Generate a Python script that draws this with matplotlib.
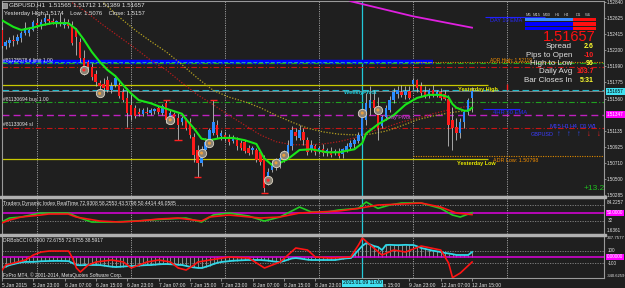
import matplotlib.pyplot as plt
import matplotlib.transforms as mtransforms
from matplotlib.patches import Rectangle
import numpy as np

plt.rcParams['font.family'] = ['Liberation Sans', 'DejaVu Sans']

W, H = 625, 288
BG = '#1f1f1f'
TXT = '#e4e4e4'

# ---------------- data (GBPUSD H1, 5 Jan 15:00 -> 12 Jan 15:00) -------------
bar_open = [
    1.5247, 1.5226, 1.5230, 1.5234, 1.5232, 1.5236, 1.5243, 1.5243, 1.5247, 1.5256,
    1.5253, 1.5257, 1.5261, 1.5259, 1.5255, 1.5257, 1.5253, 1.5257, 1.5253, 1.5247,
    1.5231, 1.5210, 1.5205, 1.5198, 1.5189, 1.5177, 1.5175, 1.5181, 1.5167, 1.5174,
    1.5174, 1.5165, 1.5157, 1.5148, 1.5144, 1.5138, 1.5136, 1.5138, 1.5137, 1.5140,
    1.5144, 1.5137, 1.5150, 1.5128, 1.5136, 1.5130, 1.5125, 1.5128, 1.5125, 1.5105,
    1.5088, 1.5071, 1.5088, 1.5101, 1.5110, 1.5121, 1.5107, 1.5108, 1.5105, 1.5100,
    1.5101, 1.5097, 1.5099, 1.5091, 1.5088, 1.5088, 1.5085, 1.5077, 1.5048, 1.5062,
    1.5069, 1.5067, 1.5077, 1.5081, 1.5093, 1.5112, 1.5104, 1.5112, 1.5101, 1.5088,
    1.5093, 1.5087, 1.5089, 1.5085, 1.5087, 1.5084, 1.5085, 1.5083, 1.5088, 1.5092,
    1.5096, 1.5100, 1.5107, 1.5128, 1.5144, 1.5154, 1.5144, 1.5120, 1.5132, 1.5141,
    1.5154, 1.5162, 1.5165, 1.5161, 1.5166, 1.5175, 1.5181, 1.5173, 1.5165, 1.5161,
    1.5167, 1.5161, 1.5165, 1.5162, 1.5156, 1.5128, 1.5118, 1.5110, 1.5125, 1.5138,
    1.51565]
bar_high = [
    1.5251, 1.5234, 1.5238, 1.5240, 1.5242, 1.5246, 1.5257, 1.5251, 1.5260, 1.5263,
    1.5261, 1.5269, 1.5268, 1.5263, 1.5260, 1.5269, 1.5263, 1.5261, 1.5259, 1.5250,
    1.5236, 1.5220, 1.5207, 1.5203, 1.5194, 1.5181, 1.5183, 1.5186, 1.5178, 1.5187,
    1.5178, 1.5170, 1.5170, 1.5161, 1.5148, 1.5144, 1.5144, 1.5145, 1.5144, 1.5144,
    1.5146, 1.5149, 1.5154, 1.5141, 1.5138, 1.5137, 1.5133, 1.5130, 1.5130, 1.5110,
    1.5095, 1.5093, 1.5104, 1.5117, 1.5154, 1.5128, 1.5114, 1.5112, 1.5109, 1.5108,
    1.5105, 1.5101, 1.5101, 1.5095, 1.5093, 1.5091, 1.5088, 1.5081, 1.5064, 1.5075,
    1.5077, 1.5080, 1.5088, 1.5101, 1.5120, 1.5117, 1.5121, 1.5117, 1.5105, 1.5101,
    1.5096, 1.5093, 1.5096, 1.5091, 1.5092, 1.5089, 1.5091, 1.5091, 1.5097, 1.5101,
    1.5104, 1.5112, 1.5134, 1.5163, 1.5173, 1.5167, 1.5158, 1.5134, 1.5148, 1.5160,
    1.5170, 1.5173, 1.5174, 1.5173, 1.5173, 1.5184, 1.5182, 1.5178, 1.5173, 1.5170,
    1.5174, 1.5167, 1.5170, 1.5167, 1.5161, 1.5145, 1.5130, 1.5130, 1.5141, 1.5157,
    1.51712]
bar_low = [
    1.5223, 1.5222, 1.5224, 1.5226, 1.5228, 1.5231, 1.5240, 1.5239, 1.5246, 1.5250,
    1.5248, 1.5253, 1.5255, 1.5255, 1.5251, 1.5252, 1.5250, 1.5250, 1.5227, 1.5214,
    1.5205, 1.5187, 1.5194, 1.5181, 1.5173, 1.5161, 1.5165, 1.5165, 1.5163, 1.5171,
    1.5157, 1.5152, 1.5118, 1.5128, 1.5130, 1.5133, 1.5133, 1.5136, 1.5134, 1.5136,
    1.5136, 1.5134, 1.5124, 1.5125, 1.5125, 1.5101, 1.5121, 1.5114, 1.5104, 1.5072,
    1.5052, 1.5067, 1.5084, 1.5099, 1.5108, 1.5104, 1.5101, 1.5100, 1.5095, 1.5097,
    1.5088, 1.5088, 1.5084, 1.5081, 1.5083, 1.5072, 1.5068, 1.5032, 1.5042, 1.5059,
    1.5062, 1.5064, 1.5072, 1.5077, 1.5088, 1.5101, 1.5101, 1.5095, 1.5081, 1.5085,
    1.5081, 1.5084, 1.5080, 1.5080, 1.5079, 1.5081, 1.5077, 1.5077, 1.5085, 1.5089,
    1.5091, 1.5097, 1.5104, 1.5121, 1.5134, 1.5138, 1.5101, 1.5117, 1.5128, 1.5138,
    1.5150, 1.5157, 1.5158, 1.5156, 1.5156, 1.5167, 1.5165, 1.5160, 1.5157, 1.5157,
    1.5158, 1.5158, 1.5154, 1.5154, 1.5093, 1.5088, 1.5101, 1.5104, 1.5117, 1.5134,
    1.51389]
bar_close = [
    1.5226, 1.5231, 1.5234, 1.5232, 1.5238, 1.5243, 1.5250, 1.5247, 1.5257, 1.5253,
    1.5257, 1.5263, 1.5259, 1.5257, 1.5259, 1.5255, 1.5257, 1.5252, 1.5230, 1.5238,
    1.5210, 1.5194, 1.5198, 1.5185, 1.5178, 1.5173, 1.5170, 1.5167, 1.5173, 1.5183,
    1.5160, 1.5154, 1.5137, 1.5134, 1.5133, 1.5136, 1.5141, 1.5137, 1.5141, 1.5142,
    1.5138, 1.5146, 1.5128, 1.5137, 1.5128, 1.5121, 1.5130, 1.5117, 1.5108, 1.5081,
    1.5071, 1.5088, 1.5099, 1.5114, 1.5125, 1.5108, 1.5110, 1.5105, 1.5099, 1.5104,
    1.5093, 1.5091, 1.5087, 1.5084, 1.5091, 1.5075, 1.5072, 1.5038, 1.5059, 1.5071,
    1.5065, 1.5077, 1.5084, 1.5095, 1.5114, 1.5107, 1.5114, 1.5101, 1.5085, 1.5095,
    1.5085, 1.5091, 1.5084, 1.5088, 1.5081, 1.5087, 1.5080, 1.5089, 1.5093, 1.5097,
    1.5101, 1.5108, 1.5130, 1.5150, 1.5154, 1.5144, 1.5117, 1.5132, 1.5144, 1.5154,
    1.5165, 1.5167, 1.5161, 1.5166, 1.5157, 1.5181, 1.5170, 1.5163, 1.5160, 1.5167,
    1.5161, 1.5165, 1.5157, 1.5156, 1.5121, 1.5117, 1.5110, 1.5125, 1.5138, 1.5154,
    1.51657]

# green fast MA (bar index, price)
ema_bar = [0, 3, 5, 8, 10, 13, 17, 19, 21, 23, 25, 27, 29, 31, 33, 35, 38, 40, 43, 46,
           47, 49, 51, 53, 56, 59, 62, 65, 67, 69, 71, 73, 76, 79, 83, 86, 90, 92, 93, 96,
           100, 103, 106, 109, 112, 114, 115, 116, 118, 119, 120]
ema_val = [1.5260, 1.5251, 1.5247, 1.5250, 1.5253, 1.5256, 1.5256, 1.5248, 1.5234, 1.5218,
           1.5205, 1.5194, 1.5186, 1.5174, 1.5163, 1.5154, 1.5150, 1.5146, 1.5141, 1.5136,
           1.5129, 1.5117, 1.5103, 1.5101, 1.5104, 1.5104, 1.5101, 1.5096, 1.5077, 1.5068,
           1.5071, 1.5076, 1.5088, 1.5089, 1.5085, 1.5085, 1.5089, 1.5097, 1.5110, 1.5122,
           1.5134, 1.5148, 1.5157, 1.5161, 1.5161, 1.5158, 1.5149, 1.5144, 1.5140, 1.5140,
           1.5144]
# yellow dotted slow MA
slow_bar = [26, 30, 34, 38, 42, 46, 50, 54, 58, 62, 66, 70, 74, 78, 82, 86, 90, 94, 98,
            102, 106, 110, 114, 118, 120]
slow_val = [1.5283, 1.5264, 1.5247, 1.5232, 1.5218, 1.5201, 1.5183, 1.5167, 1.5158, 1.5152,
            1.5144, 1.5134, 1.5125, 1.5117, 1.5112, 1.5109, 1.5108, 1.5109, 1.5113, 1.5120,
            1.5128, 1.5133, 1.5137, 1.5140, 1.5141]
# red dotted MA
mid_bar = [18, 22, 26, 30, 34, 38, 42, 46, 50, 54, 58, 62, 66, 70, 74, 78, 82, 86, 90, 94,
           98, 102, 106, 110, 114, 118, 120]
mid_val = [1.5283, 1.5269, 1.5253, 1.5238, 1.5223, 1.5207, 1.5194, 1.5177, 1.5161, 1.5148,
           1.5134, 1.5121, 1.5108, 1.5099, 1.5095, 1.5095, 1.5096, 1.5099, 1.5104, 1.5112,
           1.5118, 1.5125, 1.5130, 1.5136, 1.5141, 1.5145, 1.5146]
# magenta long MA
long_bar = [89, 93, 97, 101, 105, 109, 113, 117, 120]
long_val = [1.5285, 1.5280, 1.5275, 1.5270, 1.5265, 1.5261, 1.5257, 1.5253, 1.5250]

# horizontal levels
tl_limit = 1.5204
adr_high = 1.5205
adr_low = 1.50798
green_order = 1.5203
red_order = 1.5198
yest_high = 1.5174
yest_low = 1.5076
weekly_pivot = 1.5168
bid = 1.51657
buy_level = 1.5152
day_pivot = 1.51347
sl_level = 1.5117
day_ema = 1.5264
h4_ema = 1.5142

# trade circles and fractal marks
circle_bars = [21, 25, 43, 51, 53, 68, 70, 72, 92, 96]
circle_price = [1.5194, 1.5163, 1.5128, 1.5084, 1.5097, 1.5048, 1.5071, 1.5081, 1.5137, 1.5141]
circle_red = [21, 68]
frac_up_bars = [42, 54]
frac_dn_bars = [45, 50, 67]

day_start_bars = [9, 33, 57, 81, 105, 129]
cursor_bar = 92

# Traders Dynamic Index
tdi_red_bar = [0, 2, 5, 10, 12, 17, 19, 22, 25, 30, 35, 40, 45, 51, 53, 58, 66, 71, 76, 81,
               86, 91, 96, 102, 107, 112, 116, 120]
tdi_red = [26.8, 33.7, 40.6, 45.2, 47.5, 47.5, 40.6, 36.0, 31.4, 29.1, 31.4, 36.0, 38.3, 31.4,
           40.6, 45.2, 38.3, 40.6, 49.8, 52.1, 54.4, 60.4, 68.1, 70.4, 72.7, 63.5, 49.8, 46.06]
tdi_green_bar = [0, 2, 5, 10, 14, 17, 20, 23, 28, 34, 38, 42, 47, 51, 54, 58, 63, 67, 71, 76,
                 79, 83, 86, 91, 93, 96, 99, 102, 107, 112, 115, 117, 120]
tdi_green = [29.1, 38.3, 40.6, 49.8, 49.8, 49.8, 38.3, 29.1, 29.1, 31.4, 33.7, 36.0, 38.3, 29.1,
             45.2, 49.8, 42.9, 31.4, 40.6, 63.5, 52.1, 52.1, 56.7, 60.4, 75.0, 60.4, 68.1, 72.7,
             72.7, 60.4, 45.2, 40.6, 50.44]

# DRBobCCI
cci_red_bar = [0, 1, 4, 6, 8, 10, 12, 17, 18, 19, 20, 22, 24, 28, 31, 33, 35, 37, 40, 43,
               45, 47, 49, 50, 53, 58, 63, 67, 71, 75, 78, 80, 84, 89, 91, 92, 94, 97, 100, 103,
               107, 112, 114, 115, 117, 120]
cci_red = [-212, -131, -82, -50, 31, 79, 95, 95, -18, -179, -244, -131, -82, -50, -82, -179,
           -131, -82, -50, -82, -179, -212, -131, -82, -50, -2, -18, -179, -82, 144, 111, -2,
           -18, -2, 192, 305, 192, 31, 111, 79, 176, 111, -99, -335, -260, -82]
cci_cyan = [
    -180, -155, -130, -115, -100, -85, -80, -80, -80, -75,
    -70, -68, -66, -65, -64, -65, -66, -68, -100, -130,
    -135, -132, -130, -130, -131, -132, -140, -150, -158, -163,
    -160, -155, -150, -148, -147, -140, -135, -132, -131, -125,
    -120, -116, -115, -118, -122, -128, -131, -145, -160, -170,
    -178, -179, -160, -140, -115, -95, -82, -75, -68, -62,
    -58, -55, -52, -50, -50, -50, -50, -55, -60, -70,
    -78, -82, -65, -45, -25, -18, -25, -35, -45, -50,
    -50, -50, -50, -50, -50, -50, -40, -30, -22, -18,
    40, 111, 180, 224, 200, 175, 160, 111, 192, 195,
    192, 190, 192, 195, 192, 192, 170, 144, 130, 115,
    100, 90, 79, 65, 55, 45, 31, 31, 31, 31,
    79]

main_ticks = [1.52840, 1.52625, 1.52415, 1.52200, 1.51990, 1.51775, 1.51560,
              1.51135, 1.50925, 1.50710, 1.50500, 1.50285]
# the 9 Jan 07:00 label is hidden under the cursor time box in the chart
tick_bars = [0, 8, 16, 24, 32, 40, 48, 56, 64, 72, 80, 96, 104, 112, 120]
tick_labels = ['5 Jan 2015', '5 Jan 23:00', '6 Jan 07:00', '6 Jan 15:00', '6 Jan 23:00',
               '7 Jan 07:00', '7 Jan 15:00', '7 Jan 23:00', '8 Jan 07:00', '8 Jan 15:00',
               '8 Jan 23:00', 'Jan 15:00', '9 Jan 23:00', '12 Jan 07:00', '12 Jan 15:00']

# ---------------- figure ----------------
fig = plt.figure(figsize=(W / 100, H / 100), dpi=100, facecolor=BG)


def panel(top, bottom):
    a = fig.add_axes([2 / W, 1 - bottom / H, 602 / W, (bottom - top) / H], facecolor=BG)
    a.set_xlim(0.1, 153.67)
    for s in a.spines.values():
        s.set_color('#9a9a9a')
        s.set_linewidth(0.8)
    a.set_xticks([])
    a.set_yticks([])
    return a


def label(x, y, s, size=3.6, color=TXT, **kw):
    kw.setdefault('va', 'center')
    fig.text(x / W, 1 - y / H, s, fontsize=size, color=color, **kw)


ax = panel(1, 196)
ax1 = panel(198, 234)
ax2 = panel(236, 278)
ax.set_ylim(1.50271, 1.52853)
ax1.set_ylim(1.6361, 84.2257)
ax2.set_ylim(-340.6259, 337.7577)

for yy in (196, 234):
    fig.add_artist(Rectangle((0, 1 - (yy + 2) / H), 606 / W, 2 / H,
                             transform=fig.transFigure, color='#b0b0b0', zorder=5))

for a in (ax, ax1, ax2):
    for b in day_start_bars:
        a.axvline(b, color='#9a9a9a', lw=0.7, ls=(0, (1.2, 1.2)), zorder=1)
    a.axvline(cursor_bar, color='#22c8d8', lw=0.9, zorder=2)

# ---- main price panel ----
n = len(bar_close)
xb = np.arange(n)
o = np.array(bar_open)
c = np.array(bar_close)
hi = np.array(bar_high)
lo = np.array(bar_low)

ax.hlines(tl_limit, 0.1, 110, color='#0000ff', lw=3.2, zorder=2)
ax.hlines(tl_limit, 0.1, 110, color='#20a8b8', lw=0.7, ls=(0, (4, 2)), zorder=2)
ax.hlines(adr_high, 105, 153.67, color='#e08a00', lw=0.8, ls=(0, (1, 1.2)), zorder=2)
ax.axhline(green_order, color='#20a020', lw=0.8, ls=(0, (5, 2, 1, 2)), zorder=2)
ax.axhline(red_order, color='#c81414', lw=0.8, ls=(0, (5, 2, 1, 2)), zorder=2)
ax.hlines(yest_high, 0.1, 124, color='#c8c800', lw=0.9, zorder=2)
ax.axhline(weekly_pivot, color='#20b8c8', lw=0.8, ls=(0, (6, 3)), zorder=2)
ax.axhline(bid, color='#8c8c8c', lw=0.6, zorder=2)
ax.axhline(buy_level, color='#20a020', lw=0.8, ls=(0, (5, 2, 1, 2)), zorder=2)
ax.axhline(day_pivot, color='#c020c0', lw=1.0, ls=(0, (5, 3)), zorder=2)
ax.axhline(sl_level, color='#c81414', lw=0.8, ls=(0, (5, 2, 1, 2)), zorder=2)
ax.hlines(yest_low, 0.1, 124, color='#c8c800', lw=0.9, zorder=2)
ax.hlines(adr_low, 105, 153.67, color='#e08a00', lw=0.8, ls=(0, (1, 1.2)), zorder=2)
ax.hlines(day_ema, 123.3, 138.5, color='#2020ff', lw=0.8, zorder=2)
ax.hlines(h4_ema, 122.8, 132.2, color='#2020ff', lw=0.8, zorder=2)

ax.plot(slow_bar, slow_val, color='#b4a020', lw=0.9, ls=(0, (1, 1.3)), zorder=3)
ax.plot(mid_bar, mid_val, color='#b41c1c', lw=0.9, ls=(0, (1, 1.3)), zorder=3)
ax.plot(long_bar, long_val, color='#e020e0', lw=1.3, zorder=3)

ax.vlines(xb, lo, hi, color='#bdbdbd', lw=0.6, zorder=4)
body = np.maximum(np.abs(c - o), 0.00004)
cols = np.where(c > o, '#2b8cff', np.where(c < o, '#ff1a1a', '#e0e0e0'))
ax.bar(xb, body, bottom=np.minimum(o, c), width=0.62, color=cols, linewidth=0, zorder=5)

ax.plot(ema_bar, ema_val, color='#19e619', lw=1.5, zorder=6)

fu = np.array(frac_up_bars)
fd = np.array(frac_dn_bars)
ax.hlines(hi[fu] + 0.00003, fu - 0.9, fu + 0.9, color='#ff2020', lw=1.0, zorder=6)
ax.hlines(lo[fd] - 0.00003, fd - 0.9, fd + 0.9, color='#ff2020', lw=1.0, zorder=6)

ax.scatter(circle_bars, circle_price, s=36, facecolor='#8a8274', edgecolor='#ddd6c6',
           linewidth=0.6, zorder=7)
inner = ['#ff2a2a' if b in circle_red else '#e8a040' for b in circle_bars]
ax.scatter(circle_bars, circle_price, s=5, c=inner, linewidth=0, zorder=8)

ax.vlines(129, 1.5168, 1.5176, color='#ff2020', lw=1.0, zorder=3)

ax.yaxis.tick_right()
ax.set_yticks(main_ticks)
ax.set_yticklabels([f'{v:.5f}' for v in main_ticks])
ax.tick_params(axis='y', length=1.5, width=0.6, color='#9a9a9a', pad=0.6,
               labelsize=3.3, labelcolor=TXT)
yt = ax.get_yaxis_transform()
ax.text(1.005, bid, f'{bid:.5f}', transform=yt, fontsize=3.3, color='#000000', va='center',
        bbox=dict(boxstyle='square,pad=0.18', fc='#40e0f0', ec='none'), clip_on=False)
ax.text(1.005, day_pivot, f'{day_pivot:.5f}', transform=yt, fontsize=3.3, color='#ffffff',
        va='center', bbox=dict(boxstyle='square,pad=0.18', fc='#ff00ff', ec='none'), clip_on=False)

# ---- Traders Dynamic Index ----
ax1.axhline(50, color='#e000e0', lw=1.1, zorder=2)
for lv in (68, 32):
    ax1.axhline(lv, color='#8a8a8a', lw=0.6, ls=(0, (1.5, 1.5)), zorder=2)
ax1.plot(tdi_green_bar, tdi_green, color='#22cc22', lw=1.2, zorder=3)
ax1.plot(tdi_red_bar, tdi_red, color='#ff1414', lw=1.2, zorder=4)
t1 = ax1.get_yaxis_transform()
ax1.text(1.006, 32, '32', transform=t1, fontsize=3.3, color=TXT, va='center', clip_on=False)
ax1.text(1.005, 50, '50.0000', transform=t1, fontsize=3.3, color='#ffffff', va='center',
         bbox=dict(boxstyle='square,pad=0.18', fc='#ff00ff', ec='none'), clip_on=False)
label(607, 202, '84.2257', size=3.3)
label(607, 231, '1.6361', size=3.3)

# ---- DRBobCCI ----
ax2.vlines(xb, 0, cci_cyan, color='#b8b8b8', lw=0.5, zorder=2)
ax2.axhline(0, color='#e000e0', lw=1.1, zorder=3)
for lv in (100, -100):
    ax2.axhline(lv, color='#8a8a8a', lw=0.6, ls=(0, (1.5, 1.5)), zorder=2)
ax2.plot(xb, cci_cyan, color='#30d8e8', lw=1.3, zorder=4)
ax2.plot(cci_red_bar, cci_red, color='#ff1414', lw=1.2, zorder=5)
t2 = ax2.get_yaxis_transform()
for lv, s in ((100, '100'), (-100, '-100')):
    ax2.text(1.006, lv, s, transform=t2, fontsize=3.3, color=TXT, va='center', clip_on=False)
ax2.text(1.005, 0, '0.00000', transform=t2, fontsize=3.3, color='#ffffff', va='center',
         bbox=dict(boxstyle='square,pad=0.18', fc='#ff00ff', ec='none'), clip_on=False)
label(607, 238, '337.7577', size=3.2)
label(607, 276, '-340.6259', size=3.0)

ax2.set_xticks(tick_bars)
ax2.set_xticklabels(tick_labels, ha='left')
ax2.tick_params(axis='x', length=2.5, width=0.6, color='#9a9a9a', pad=1.0,
                labelsize=3.6, labelcolor=TXT)
bt = mtransforms.blended_transform_factory(ax2.transData, fig.transFigure)
ax2.text(cursor_bar, 1 - 283 / H, '2015.01.09 11:00', transform=bt, ha='center', va='center',
         fontsize=3.6, color='#000000', clip_on=False, zorder=10,
         bbox=dict(boxstyle='square,pad=0.2', fc='#40e0f0', ec='none'))

# ---- texts ----
fig.add_artist(Rectangle((2 / W, 1 - 8 / H), 5 / W, 5 / H, transform=fig.transFigure,
                         fc='#909090', ec='#d0d0d0', lw=0.4, zorder=6))
label(9, 5, 'GBPUSD,H1  1.51565 1.51712 1.51389 1.51657', size=4.5)
label(4, 13, 'Yesterday High:1.5174    Low: 1.5076    Close: 1.5157', size=4.2)
label(3, 61, '#81125578 tl limit 1.00', size=3.6)
label(3, 99.5, '#81130694 buy 1.00', size=3.6)
label(3, 125, '#81133094 sl', size=3.6)
label(3, 203.5, 'Traders Dynamic Index RealTime 72.9308 58.2553 43.5798 50.4414 46.0585', size=3.6)
label(3, 240, 'DRBobCCI 0.0000 72.6755 72.6755 38.5917', size=3.6)
label(3, 275, 'FxPro MT4, \u00a9 2001-2014, MetaQuotes Software Corp.', size=3.5)

label(344, 92.5, 'WeeklyPivot', size=4.0, color='#20c8d8', fontweight='bold')
label(387, 118, 'Day Pivot', size=4.0, color='#e040e0')
label(458, 89, 'Yesterday High', size=4.0, color='#e8e800', fontweight='bold')
label(457, 164, 'Yesterday Low', size=4.0, color='#e8e800', fontweight='bold')
label(490, 60.5, 'ADR High: 1.52119', size=3.5, color='#f08c00')
label(493, 160.5, 'ADR Low: 1.50798', size=3.9, color='#f08c00')
label(490, 21, 'DAY 10 EMA', size=4.0, color='#2828ff')
label(493, 113, '4HR 50 EMA', size=4.2, color='#2828ff')

# signal bars dashboard
for name, xc in zip(['M5', 'M15', 'M30', 'H1', 'H4', 'D1', 'W1'],
                    [528, 537, 547, 557, 566, 578, 588]):
    label(xc, 14.5, name, size=3.0, color='#c8c8c8', ha='center')
for k, top in enumerate([18, 22.5, 27]):
    blue = '#3a8cff' if k == 0 else '#0000ff'
    fig.add_artist(Rectangle((525 / W, 1 - (top + 3.4) / H), 48 / W, 3.4 / H,
                             transform=fig.transFigure, fc=blue, ec='none', zorder=6))
    fig.add_artist(Rectangle((573 / W, 1 - (top + 3.4) / H), 23 / W, 3.4 / H,
                             transform=fig.transFigure, fc='#ff1010', ec='none', zorder=6))

label(596, 37, '1.51657', size=10.5, color='#ff1010', ha='right')
info = [('Spread', '2.6', '#ffff30'), ('Pips to Open', '-10', '#ff2020'),
        ('High to Low', '96', '#ffff30'), ('Daily Avg', '103.7', '#ff2020'),
        ('Bar Closes In', '5:31', '#ffff30')]
for k, (name, val, vc) in enumerate(info):
    yy = 47 + k * 8.3
    label(572, yy, name, size=5.8, color='#e0e0e0', ha='right')
    label(594, yy, val, size=5.0, color=vc, ha='right', fontweight='bold')

for name, xc in zip(['M15', 'H1', 'H4', 'D1', 'W1'], [555, 565, 574, 583, 593]):
    label(xc, 126.5, name, size=4.4, color='#3c3cff', ha='center')
label(531, 134.5, 'GBPUSD', size=4.0, color='#3c3cff')
for xc, up in zip([559, 568.5, 578.5, 588.5, 598.5], [True, True, True, False, False]):
    label(xc, 134.5, '\u2191' if up else '\u2193', size=5.5,
          color='#3050ff' if up else '#ff2020', ha='center', fontweight='bold')
label(594, 188, '+13.2', size=6.0, color='#20c020', ha='center')

fig.savefig('out.png', dpi=100, facecolor=BG)
